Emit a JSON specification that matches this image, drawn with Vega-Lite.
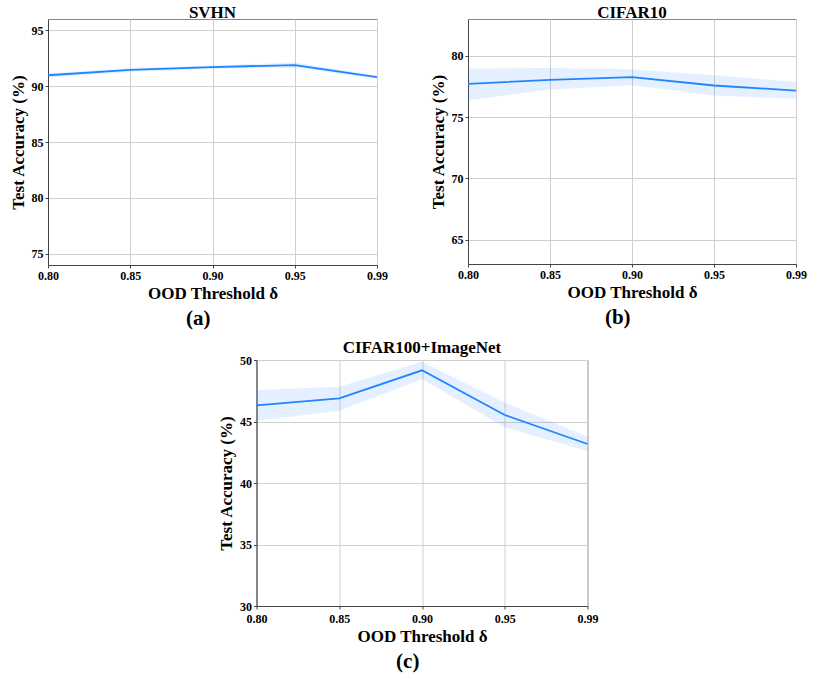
{
  "$schema": "https://vega.github.io/schema/vega-lite/v6.json",
  "padding": {"left": 8, "top": 3, "right": 5, "bottom": 2},
  "datasets": {
    "acc": [
      {"dataset": "SVHN", "thr": "0.80", "mean": 90.97, "lo": 90.75, "hi": 91.15},
      {"dataset": "SVHN", "thr": "0.85", "mean": 91.45, "lo": 91.25, "hi": 91.62},
      {"dataset": "SVHN", "thr": "0.90", "mean": 91.7, "lo": 91.55, "hi": 91.85},
      {"dataset": "SVHN", "thr": "0.95", "mean": 91.88, "lo": 91.65, "hi": 92.12},
      {"dataset": "SVHN", "thr": "0.99", "mean": 90.8, "lo": 90.68, "hi": 90.92},
      {"dataset": "CIFAR10", "thr": "0.80", "mean": 77.7, "lo": 76.37, "hi": 78.96},
      {"dataset": "CIFAR10", "thr": "0.85", "mean": 78.03, "lo": 77.24, "hi": 79.0},
      {"dataset": "CIFAR10", "thr": "0.90", "mean": 78.25, "lo": 77.6, "hi": 78.9},
      {"dataset": "CIFAR10", "thr": "0.95", "mean": 77.57, "lo": 76.75, "hi": 78.4},
      {"dataset": "CIFAR10", "thr": "0.99", "mean": 77.16, "lo": 76.48, "hi": 77.87},
      {"dataset": "CIFAR100+ImageNet", "thr": "0.80", "mean": 46.31, "lo": 45.07, "hi": 47.56},
      {"dataset": "CIFAR100+ImageNet", "thr": "0.85", "mean": 46.88, "lo": 45.88, "hi": 47.83},
      {"dataset": "CIFAR100+ImageNet", "thr": "0.90", "mean": 49.16, "lo": 48.43, "hi": 49.86},
      {"dataset": "CIFAR100+ImageNet", "thr": "0.95", "mean": 45.53, "lo": 44.53, "hi": 46.53},
      {"dataset": "CIFAR100+ImageNet", "thr": "0.99", "mean": 43.17, "lo": 42.6, "hi": 43.77}
    ]
  },
  "vconcat": [
    {
      "hconcat": [
        {
          "title": {"text": "(a)", "orient": "bottom", "anchor": "middle", "fontSize": 21, "offset": 6},
          "vconcat": [
            {
              "title": "SVHN",
              "width": 329,
              "height": 246,
              "data": {"name": "acc"},
              "transform": [{"filter": "datum.dataset === 'SVHN'"}],
              "encoding": {
                "x": {"field": "thr", "type": "ordinal", "scale": {"type": "point", "padding": 0}, "title": "OOD Threshold δ", "axis": {"labelAngle": 0, "grid": true}}
              },
              "layer": [
                {
                  "mark": {"type": "area", "color": "#1f85ff", "opacity": 0.12},
                  "encoding": {
                    "y": {"field": "lo", "type": "quantitative", "scale": {"domain": [75, 95]}, "axis": {"values": [75, 80, 85, 90, 95]}, "title": "Test Accuracy (%)"},
                    "y2": {"field": "hi"}
                  }
                },
                {
                  "mark": {"type": "line", "color": "#1f85ff", "strokeWidth": 1.8},
                  "encoding": {"y": {"field": "mean", "type": "quantitative"}}
                }
              ]
            }
          ]
        },
        {
          "title": {"text": "(b)", "orient": "bottom", "anchor": "middle", "fontSize": 21, "offset": 6},
          "vconcat": [
            {
              "title": "CIFAR10",
              "width": 328,
              "height": 245,
              "data": {"name": "acc"},
              "transform": [{"filter": "datum.dataset === 'CIFAR10'"}],
              "encoding": {
                "x": {"field": "thr", "type": "ordinal", "scale": {"type": "point", "padding": 0}, "title": "OOD Threshold δ", "axis": {"labelAngle": 0, "grid": true}}
              },
              "layer": [
                {
                  "mark": {"type": "area", "color": "#1f85ff", "opacity": 0.12},
                  "encoding": {
                    "y": {"field": "lo", "type": "quantitative", "scale": {"domain": [63, 83], "nice": false}, "axis": {"values": [65, 70, 75, 80]}, "title": "Test Accuracy (%)"},
                    "y2": {"field": "hi"}
                  }
                },
                {
                  "mark": {"type": "line", "color": "#1f85ff", "strokeWidth": 1.8},
                  "encoding": {"y": {"field": "mean", "type": "quantitative"}}
                }
              ]
            }
          ]
        }
      ]
    },
    {
      "title": {"text": "(c)", "orient": "bottom", "anchor": "middle", "fontSize": 21, "offset": 6},
      "vconcat": [
        {
          "title": "CIFAR100+ImageNet",
          "width": 331,
          "height": 246,
          "data": {"name": "acc"},
          "transform": [{"filter": "datum.dataset === 'CIFAR100+ImageNet'"}],
          "encoding": {
            "x": {"field": "thr", "type": "ordinal", "scale": {"type": "point", "padding": 0}, "title": "OOD Threshold δ", "axis": {"labelAngle": 0, "grid": true, "labelPadding": 4}}
          },
          "layer": [
            {
              "mark": {"type": "area", "color": "#1f85ff", "opacity": 0.12},
              "encoding": {
                "y": {"field": "lo", "type": "quantitative", "scale": {"domain": [30, 50]}, "axis": {"values": [30, 35, 40, 45, 50]}, "title": "Test Accuracy (%)"},
                "y2": {"field": "hi"}
              }
            },
            {
              "mark": {"type": "line", "color": "#1f85ff", "strokeWidth": 1.8},
              "encoding": {"y": {"field": "mean", "type": "quantitative"}}
            }
          ]
        }
      ]
    }
  ],
  "center": true,
  "spacing": 9,
  "config": {
    "font": "Liberation Serif",
    "concat": {"spacing": 40},
    "view": {"stroke": "#888", "strokeWidth": 1},
    "axis": {
      "labelFont": "Liberation Serif",
      "labelFontSize": 12,
      "labelFontWeight": "bold",
      "labelColor": "#000",
      "labelPadding": 2,
      "titleFont": "Liberation Serif",
      "titleFontSize": 17,
      "titleFontWeight": "bold",
      "titleColor": "#000",
      "titlePadding": 4,
      "gridColor": "#cfcfcf",
      "gridWidth": 1,
      "domainColor": "#444",
      "tickColor": "#444",
      "tickSize": 3
    },
    "title": {"font": "Liberation Serif", "fontSize": 17, "fontWeight": "bold", "color": "#000", "offset": -3}
  }
}
